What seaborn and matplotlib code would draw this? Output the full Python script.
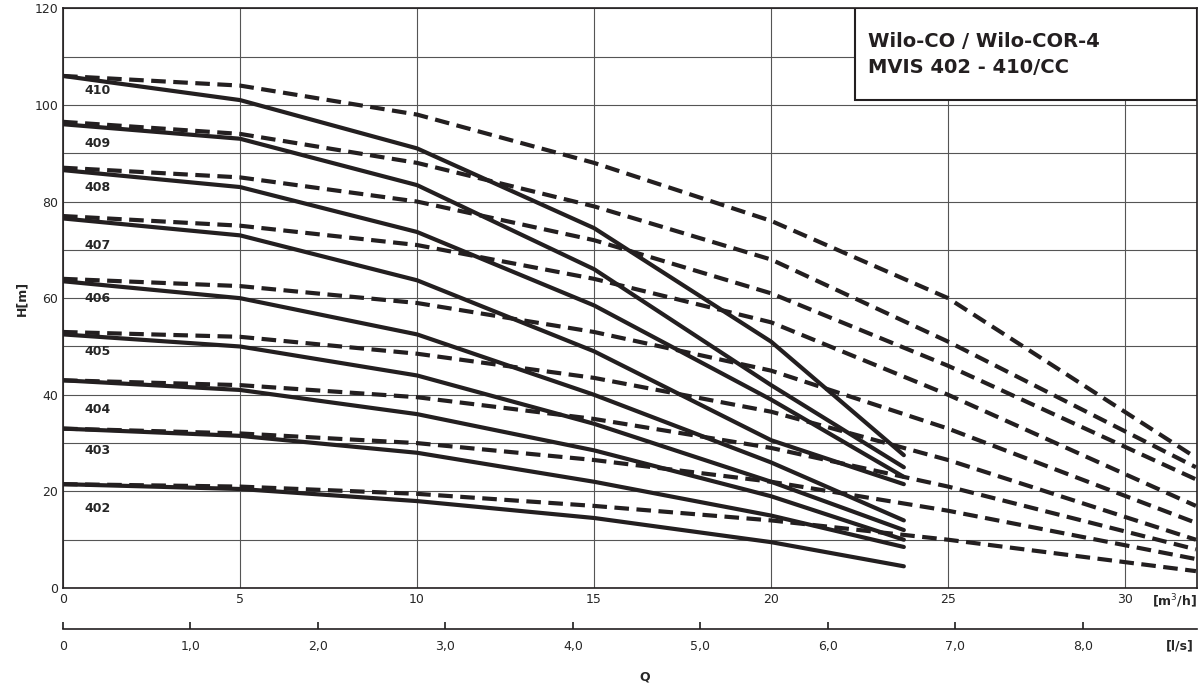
import pandas as pd
import seaborn as sns
import matplotlib.pyplot as plt
from matplotlib.patches import Rectangle

stages = ['410', '409', '408', '407', '406', '405', '404', '403', '402']

# solid curves (Q in m3/h)
q_solid = [0, 5, 10, 15, 20, 23.75]
h_solid = {
    '410': [106, 101, 91, 74.5, 51, 27.5],
    '409': [96, 93, 83.4, 66, 42, 25],
    '408': [86.5, 83, 73.7, 58.5, 39, 23],
    '407': [76.5, 73, 63.7, 49, 30.6, 21.5],
    '406': [63.5, 60, 52.5, 40, 26, 14],
    '405': [52.5, 50, 44, 34, 22, 12],
    '404': [43, 41, 36, 28.5, 19, 10],
    '403': [33, 31.5, 28, 22, 15, 8.5],
    '402': [21.5, 20.5, 18, 14.5, 9.5, 4.5],
}

# dashed curves
q_dash = [0, 5, 10, 15, 20, 25, 32]
h_dash = {
    '410': [106, 104, 98, 88, 76, 60, 27],
    '409': [96.5, 94, 88, 79, 68, 51, 25],
    '408': [87, 85, 80, 72, 61, 46, 22.5],
    '407': [77, 75, 71, 64, 55, 40, 17],
    '406': [64, 62.5, 59, 53, 45, 33, 13.5],
    '405': [53, 52, 48.5, 43.5, 36.5, 26.5, 10],
    '404': [43, 42, 39.5, 35, 29, 21, 8],
    '403': [33, 32, 30, 26.5, 22, 16, 6],
    '402': [21.5, 21, 19.5, 17, 14, 10, 3.5],
}

label_y = [103, 92, 83, 71, 60, 49, 37, 28.5, 16.5]

ls_ticks = [0, 1, 2, 3, 4, 5, 6, 7, 8]
ls_labels = ['0', '1,0', '2,0', '3,0', '4,0', '5,0', '6,0', '7,0', '8,0']

sns.set_theme(style="white")
plt.rcParams['font.family'] = ['DejaVu Sans']

fig = plt.figure(figsize=(12, 6.91), dpi=100)
ax = fig.add_axes([0.0525, 0.149, 0.945, 0.839])

rows = []
for s in stages:
    for q, h in zip(q_solid, h_solid[s]):
        rows.append({'Q': q, 'H': h, 'stage': s, 'kind': 'solid'})
    for q, h in zip(q_dash, h_dash[s]):
        rows.append({'Q': q, 'H': h, 'stage': s, 'kind': 'dash'})
df = pd.DataFrame(rows)

sns.lineplot(data=df[df.kind == 'dash'], x='Q', y='H', units='stage', estimator=None,
             color='#231f20', lw=3.0, ax=ax, linestyle=(0, (3.5, 1.8)), sort=False)
sns.lineplot(data=df[df.kind == 'solid'], x='Q', y='H', units='stage', estimator=None,
             color='#231f20', lw=3.0, ax=ax, sort=False)

for s, y in zip(stages, label_y):
    ax.text(0.6, y, s, fontsize=9, fontweight='bold', va='center', ha='left')

ax.set_xlim(0, 32.03)
ax.set_ylim(0, 120)
ax.set_xticks(range(0, 35, 5))
ax.set_xticklabels(['0', '5', '10', '15', '20', '25', '30'])
ax.set_yticks(range(0, 121, 20))
ax.set_yticks(range(0, 121, 10), minor=True)
ax.grid(True, which='both', color='#555555', lw=0.8)
ax.tick_params(labelsize=9, length=0)
ax.set_xlabel('')
ax.set_ylabel('H[m]', fontsize=9, fontweight='bold')
for sp in ax.spines.values():
    sp.set_color('#231f20')
    sp.set_linewidth(1.2)

# title box in the upper right corner
ax.add_patch(Rectangle((0.698, 0.841), 0.302, 0.159, transform=ax.transAxes,
                       fc='white', ec='#231f20', lw=1.5, zorder=5))
ax.text(0.71, 0.92, 'Wilo-CO / Wilo-COR-4\nMVIS 402 - 410/CC', transform=ax.transAxes,
        fontsize=14, fontweight='bold', va='center', ha='left', linespacing=1.5,
        color='#231f20', zorder=6)
fig.text(0.979, 0.124, '[m$^3$/h]', fontsize=9, fontweight='bold', ha='center')

# l/s axis
ax2 = fig.add_axes([0.0525, 0.0897, 0.945, 0.001])
ax2.set_xlim(0, 32.03 / 3.6)
ax2.set_xticks(ls_ticks)
ax2.set_xticklabels(ls_labels)
ax2.set_yticks([])
for k in ['top', 'left', 'right']:
    ax2.spines[k].set_visible(False)
ax2.spines['bottom'].set_color('#231f20')
ax2.spines['bottom'].set_linewidth(1.2)
ax2.tick_params(axis='x', labelsize=9, length=5, direction='in', pad=8, bottom=True, top=False)
ax2.patch.set_alpha(0)
fig.text(0.983, 0.06, '[l/s]', fontsize=9, fontweight='bold', ha='center')
fig.text(0.5375, 0.015, 'Q', fontsize=9, fontweight='bold', ha='center')

fig.savefig('out.png', dpi=100)
